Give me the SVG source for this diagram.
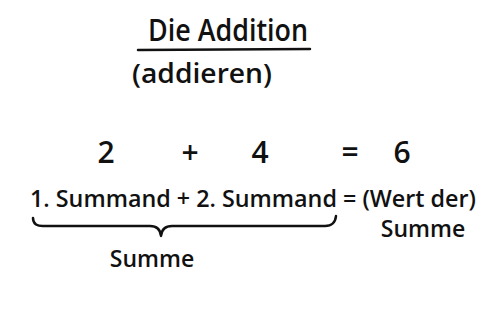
<svg xmlns="http://www.w3.org/2000/svg" width="490" height="322" viewBox="0 0 490 322">
<style>
.t{font-family:"Open Sans","Liberation Sans",sans-serif;fill:#111;font-weight:600}
.l{stroke:#111;stroke-width:2.5;fill:none;stroke-linecap:round;stroke-linejoin:round}
</style>
<rect width="490" height="322" fill="#fff"/>
<g id="title">
<text class="t" x="228" y="41" font-size="30" text-anchor="middle" textLength="160" lengthAdjust="spacingAndGlyphs">Die Addition</text>
<path class="l" d="M138 50 L310 49"/>
</g>
<g id="subtitle">
<text class="t" x="202" y="83" font-size="27" text-anchor="middle" textLength="140" lengthAdjust="spacingAndGlyphs">(addieren)</text>
</g>
<g id="numbers">
<text class="t" x="106" y="163" font-size="30" text-anchor="middle">2</text>
<text class="t" x="190" y="163" font-size="30" text-anchor="middle">+</text>
<text class="t" x="260" y="163" font-size="30" text-anchor="middle">4</text>
<text class="t" x="350" y="163" font-size="30" text-anchor="middle">=</text>
<text class="t" x="402" y="163" font-size="30" text-anchor="middle">6</text>
</g>
<g id="formula">
<text class="t" x="30" y="207" font-size="23" textLength="446" lengthAdjust="spacingAndGlyphs">1. Summand + 2. Summand = (Wert der)</text>
<text class="t" x="423" y="237" font-size="23" text-anchor="middle">Summe</text>
</g>
<g id="connectors">
<path class="l" d="M33 218 Q33 227 45 226 L150 226 Q160 226 161 236 Q162 226 172 226 L325 226 Q335 226 336 216"/>
</g>
<g id="sum">
<text class="t" x="152" y="267" font-size="23" text-anchor="middle">Summe</text>
</g>
</svg>
